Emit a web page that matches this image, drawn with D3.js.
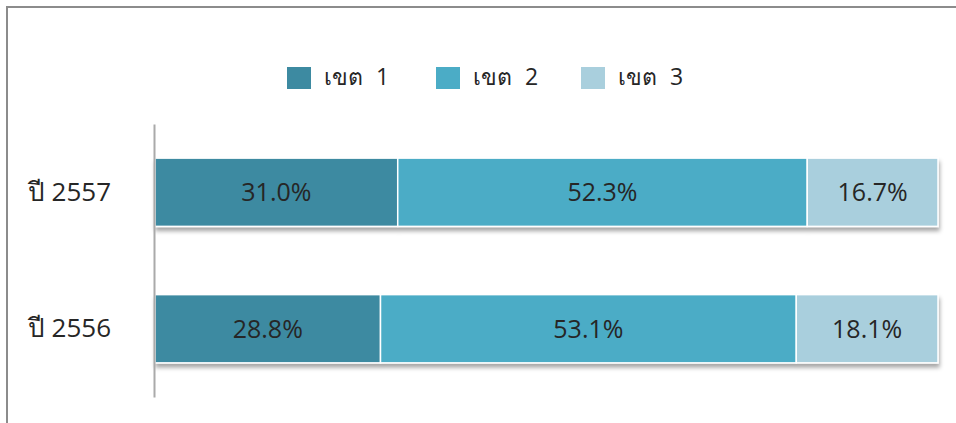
<!DOCTYPE html>
<html>
<head>
<meta charset="utf-8">
<script src="https://cdn.jsdelivr.net/npm/d3@7"></script>
<style>
body { margin: 0; background: #fff; }
</style>
</head>
<body>
<div id="chart"></div>
<script>
var width = 956, height = 423;
// ข้อมูล
var years = ["ปี 2557", "ปี 2556"];
var seriesNames = ["เขต 1", "เขต 2", "เขต 3"];
var khet1 = [31.0, 28.8];
var khet2 = [52.3, 53.1];
var khet3 = [16.7, 18.1];
var colors = ["#3d8aa1", "#4bacc6", "#a9cfdd"];

var rows = years.map(function (y, i) {
    return { year: y, "เขต 1": khet1[i], "เขต 2": khet2[i], "เขต 3": khet3[i] };
});

var font = "Open Sans, sans-serif";

var svg = d3.select("#chart")
    .append("svg")
    .attr("width", width)
    .attr("height", height);

// กรอบ
svg.append("rect")
    .attr("x", 7)
    .attr("y", 7)
    .attr("width", 1000)
    .attr("height", 600)
    .attr("fill", "none")
    .attr("stroke", "#8c8c8c")
    .attr("stroke-width", 2);

var defs = svg.append("defs");
var f = defs.append("filter")
    .attr("id", "shadow")
    .attr("x", "-5%").attr("y", "-20%")
    .attr("width", "110%").attr("height", "150%");
f.append("feDropShadow")
    .attr("dx", 1)
    .attr("dy", 4)
    .attr("stdDeviation", 2)
    .attr("flood-color", "#000")
    .attr("flood-opacity", 0.35);

var x = d3.scaleLinear().domain([0, 100]).range([155, 938]);
var y = d3.scaleBand().domain(years).range([124, 397])
    .paddingInner(0.5).paddingOuter(0.25);

var stack = d3.stack().keys(seriesNames)(rows);

var barsG = svg.append("g").attr("filter", "url(#shadow)");
stack.forEach(function (s, k) {
    barsG.selectAll(".seg" + k)
        .data(s)
        .enter()
        .append("rect")
        .attr("x", function (d) { return x(d[0]); })
        .attr("y", function (d) { return y(d.data.year); })
        .attr("width", function (d) { return x(d[1]) - x(d[0]); })
        .attr("height", y.bandwidth())
        .attr("fill", colors[k])
        .attr("stroke", "#fff")
        .attr("stroke-width", 1.5);
});

// ป้ายค่า
stack.forEach(function (s, k) {
    svg.selectAll(".lab" + k)
        .data(s)
        .enter()
        .append("text")
        .attr("x", function (d) { return (x(d[0]) + x(d[1])) / 2; })
        .attr("y", function (d) { return y(d.data.year) + y.bandwidth() / 2; })
        .attr("dy", "0.36em")
        .attr("text-anchor", "middle")
        .attr("font-family", font)
        .attr("font-size", "25px")
        .attr("fill", "#262626")
        .text(function (d) { return (d[1] - d[0]).toFixed(1) + "%"; });
});

// แกน
var yAxis = d3.axisLeft(y).tickSize(0).tickPadding(43);
var ax = svg.append("g")
    .attr("transform", "translate(154,0)")
    .call(yAxis);
ax.select(".domain").attr("stroke", "#aaaaaa").attr("stroke-width", 2);
ax.selectAll("text")
    .attr("font-family", font)
    .attr("font-size", "26px")
    .attr("fill", "#262626");

// คำอธิบาย
var legendX = [287, 436, 581];
var lg = svg.selectAll(".legend")
    .data(seriesNames)
    .enter()
    .append("g")
    .attr("transform", function (d, i) { return "translate(" + legendX[i] + ",67)"; });
lg.append("rect")
    .attr("width", 24)
    .attr("height", 22)
    .attr("fill", function (d, i) { return colors[i]; });
lg.append("text")
    .attr("x", 37)
    .attr("y", 18)
    .attr("font-family", font)
    .attr("font-size", "23px")
    .attr("word-spacing", "7px")
    .attr("fill", "#262626")
    .text(function (d) { return d; });
</script>
</body>
</html>
